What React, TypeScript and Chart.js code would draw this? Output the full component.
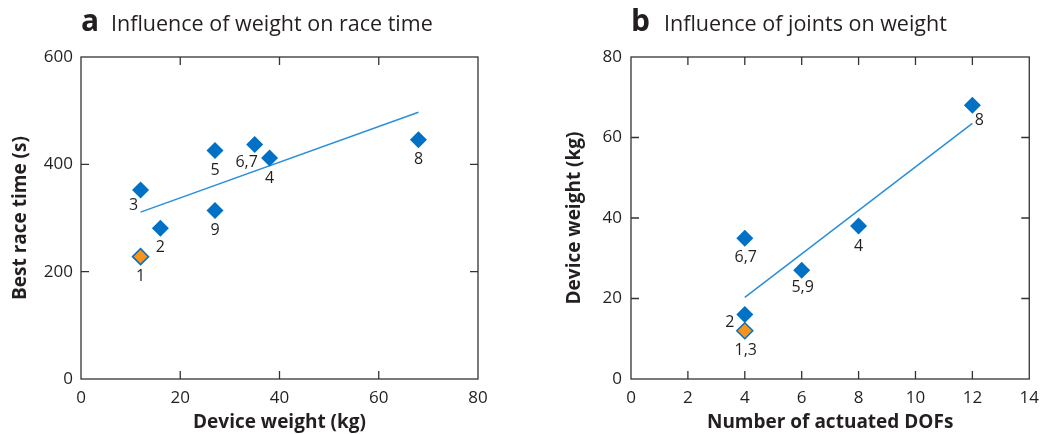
import React, { useEffect, useRef } from "react";
import { Chart, registerables } from "chart.js";

Chart.register(...registerables);

// ---------- Panel a: Influence of weight on race time ----------
const weightA = [12, 16, 12, 38, 27, 35, 68, 27];
const raceTimeA = [228, 281, 352, 412, 426, 437, 446, 314];
const labelsA = ["1", "2", "3", "4", "5", "6,7", "8", "9"];
const highlightA = [true, false, false, false, false, false, false, false];
const fitWeightA = [12, 68];
const fitTimeA = [311, 497];
const xTicksA = [0, 20, 40, 60, 80];
const yTicksA = [0, 200, 400, 600];

// ---------- Panel b: Influence of joints on weight ----------
const dofsB = [4, 4, 8, 6, 4, 12];
const weightB = [12, 16, 38, 27, 35, 68];
const labelsB = ["1,3", "2", "4", "5,9", "6,7", "8"];
const highlightB = [true, false, false, false, false, false];
const fitDofsB = [4, 12];
const fitWeightB = [20.3, 63.5];
const xTicksB = [0, 2, 4, 6, 8, 10, 12, 14];
const yTicksB = [0, 20, 40, 60, 80];

// label offsets (pixels, relative to marker centre)
const offsetsA = [[0, 20], [0, 19], [-7, 15], [0, 21], [0, 20], [-8, 18], [0, 20], [0, 20]];
const offsetsB = [[1, 20], [-15, 8], [0, 20], [1, 17], [1, 19], [7, 15]];

const FONT = "'Open Sans', 'DejaVu Sans', sans-serif";
const TEXT = "#231f20";
const BLUE = "#0071c5";
const LINE = "#2a8fd8";
const ORANGE = "#f7941d";
const AXIS_TITLE_SIZE = 19;

type PanelSpec = {
  letter: string;
  title: string;
  xs: number[];
  ys: number[];
  labels: string[];
  highlight: boolean[];
  offsets: number[][];
  fitX: number[];
  fitY: number[];
  xTicks: number[];
  yTicks: number[];
  xTitle: string;
  yTitle: string;
  area: { left: number; right: number; top: number; bottom: number };
  canvasW: number;
  yTitleX: number;
  titleDx: number;
  yTickPad: number;
};

const CANVAS_H = 434;

function makeChart(canvas: HTMLCanvasElement, p: PanelSpec) {
  const normal = p.xs.map((x, i) => ({ x, y: p.ys[i] })).filter((_, i) => !p.highlight[i]);
  const hi = p.xs.map((x, i) => ({ x, y: p.ys[i] })).filter((_, i) => p.highlight[i]);
  const fit = p.fitX.map((x, i) => ({ x, y: p.fitY[i] }));

  const frame = {
    id: "frame",
    afterDraw(chart: any) {
      const { ctx, chartArea: a } = chart;
      const xs = chart.scales.x;
      const ys = chart.scales.y;
      ctx.save();
      ctx.strokeStyle = "#333333";
      ctx.lineWidth = 1.3;
      ctx.strokeRect(a.left, a.top, a.right - a.left, a.bottom - a.top);
      const tl = 8;
      ctx.beginPath();
      xs.ticks.forEach((t: any) => {
        const px = xs.getPixelForValue(t.value);
        if (px <= a.left + 1 || px >= a.right - 1) return;
        ctx.moveTo(px, a.bottom);
        ctx.lineTo(px, a.bottom - tl);
        ctx.moveTo(px, a.top);
        ctx.lineTo(px, a.top + tl);
      });
      ys.ticks.forEach((t: any) => {
        const py = ys.getPixelForValue(t.value);
        if (py <= a.top + 1 || py >= a.bottom - 1) return;
        ctx.moveTo(a.left, py);
        ctx.lineTo(a.left + tl, py);
        ctx.moveTo(a.right, py);
        ctx.lineTo(a.right - tl, py);
      });
      ctx.stroke();

      // point labels
      ctx.fillStyle = TEXT;
      ctx.font = `16px ${FONT}`;
      ctx.textAlign = "center";
      ctx.textBaseline = "middle";
      p.labels.forEach((lab, i) => {
        const px = xs.getPixelForValue(p.xs[i]) + p.offsets[i][0];
        const py = ys.getPixelForValue(p.ys[i]) + p.offsets[i][1];
        ctx.fillText(lab, px, py);
      });

      // panel title
      ctx.textAlign = "left";
      ctx.textBaseline = "alphabetic";
      ctx.font = `bold 30px ${FONT}`;
      ctx.fillText(p.letter, a.left, 31);
      ctx.font = `21.5px ${FONT}`;
      ctx.fillText(p.title, a.left + p.titleDx, 31);
      ctx.restore();
    },
  };

  return new Chart(canvas, {
    type: "scatter",
    data: {
      datasets: [
        {
          type: "line",
          data: fit,
          borderColor: LINE,
          borderWidth: 1.5,
          pointRadius: 0,
          fill: false,
          order: 3,
        } as any,
        {
          data: normal,
          pointStyle: "rectRot",
          pointRadius: 8.5,
          backgroundColor: BLUE,
          borderColor: BLUE,
          borderWidth: 0,
          order: 2,
        },
        {
          data: hi,
          pointStyle: "rectRot",
          pointRadius: 8,
          backgroundColor: ORANGE,
          borderColor: BLUE,
          borderWidth: 1.5,
          order: 1,
        },
      ],
    },
    options: {
      animation: false,
      responsive: false,
      maintainAspectRatio: false,
      layout: {
        padding: { left: 0, top: p.area.top, right: p.canvasW - p.area.right, bottom: 0 },
      },
      plugins: { legend: { display: false }, tooltip: { enabled: false }, title: { display: false } },
      scales: {
        x: {
          type: "linear",
          min: p.xTicks[0],
          max: p.xTicks[p.xTicks.length - 1],
          afterBuildTicks: (s: any) => {
            s.ticks = p.xTicks.map((v) => ({ value: v }));
          },
          afterFit: (s: any) => {
            s.height = CANVAS_H - p.area.bottom;
          },
          grid: { display: false, drawTicks: false },
          border: { display: false },
          ticks: { font: { family: FONT, size: 17 }, color: TEXT, padding: 9, maxRotation: 0 },
          title: {
            display: true,
            text: p.xTitle,
            font: { family: FONT, size: AXIS_TITLE_SIZE, weight: "bold" },
            color: TEXT,
            padding: { top: 0, bottom: 0 },
          },
        },
        y: {
          type: "linear",
          min: p.yTicks[0],
          max: p.yTicks[p.yTicks.length - 1],
          afterBuildTicks: (s: any) => {
            s.ticks = p.yTicks.map((v) => ({ value: v }));
          },
          afterFit: (s: any) => {
            s.width = p.area.left;
          },
          grid: { display: false, drawTicks: false },
          border: { display: false },
          ticks: { font: { family: FONT, size: 17 }, color: TEXT, padding: p.yTickPad },
          title: {
            display: true,
            text: p.yTitle,
            font: { family: FONT, size: AXIS_TITLE_SIZE, weight: "bold" },
            color: TEXT,
            padding: { top: p.yTitleX - AXIS_TITLE_SIZE * 0.6, bottom: 0 },
          },
        },
      },
    },
    plugins: [frame],
  } as any);
}

const panelA: PanelSpec = {
  letter: "a",
  title: "Influence of weight on race time",
  xs: weightA,
  ys: raceTimeA,
  labels: labelsA,
  highlight: highlightA,
  offsets: offsetsA,
  fitX: fitWeightA,
  fitY: fitTimeA,
  xTicks: xTicksA,
  yTicks: yTicksA,
  xTitle: "Device weight (kg)",
  yTitle: "Best race time (s)",
  area: { left: 81, right: 478, top: 57, bottom: 379 },
  canvasW: 524,
  yTitleX: 21,
  titleDx: 30,
  yTickPad: 8,
};

const panelB: PanelSpec = {
  letter: "b",
  title: "Influence of joints on weight",
  xs: dofsB,
  ys: weightB,
  labels: labelsB,
  highlight: highlightB,
  offsets: offsetsB,
  fitX: fitDofsB,
  fitY: fitWeightB,
  xTicks: xTicksB,
  yTicks: yTicksB,
  xTitle: "Number of actuated DOFs",
  yTitle: "Device weight (kg)",
  area: { left: 107, right: 513, top: 57, bottom: 379 },
  canvasW: 524,
  yTitleX: 51,
  titleDx: 33,
  yTickPad: 9,
};

function Panel({ spec, left }: { spec: PanelSpec; left: number }) {
  const ref = useRef<HTMLCanvasElement | null>(null);
  useEffect(() => {
    if (!ref.current) return;
    const chart = makeChart(ref.current, spec);
    return () => chart.destroy();
  }, [spec]);
  return (
    <canvas
      ref={ref}
      width={spec.canvasW}
      height={CANVAS_H}
      style={{ position: "absolute", left, top: 0, width: spec.canvasW, height: CANVAS_H }}
    />
  );
}

export default function App() {
  return (
    <div style={{ position: "absolute", left: 0, top: 0, width: 1048, height: CANVAS_H, background: "#fff" }}>
      <Panel spec={panelA} left={0} />
      <Panel spec={panelB} left={524} />
    </div>
  );
}
